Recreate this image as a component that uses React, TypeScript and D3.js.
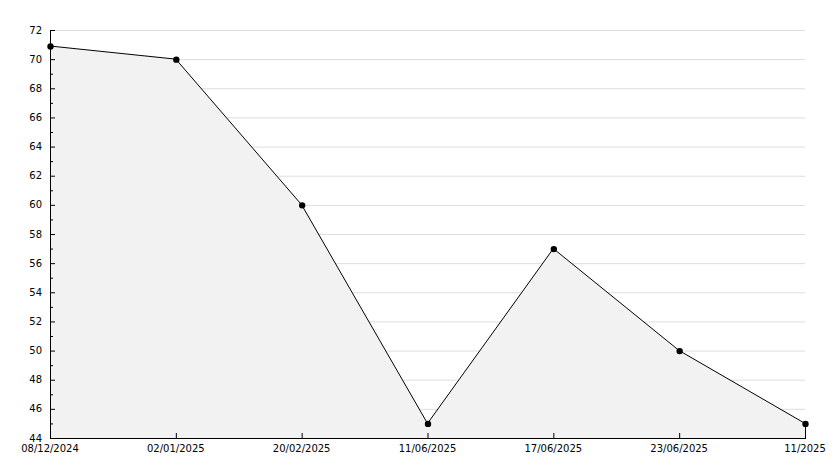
import React from "react";
import * as d3 from "d3";

const categories = ["08/12/2024", "02/01/2025", "20/02/2025", "11/06/2025", "17/06/2025", "23/06/2025", "11/2025"];
const values = [70.9, 70, 60, 45, 57, 50, 45];
const yMajorTicks = [44, 46, 48, 50, 52, 54, 56, 58, 60, 62, 64, 66, 68, 70, 72];
const yMinorTicks = [45, 47, 49, 51, 53, 55, 57, 59, 61, 63, 65, 67, 69, 71];

const W = 834, H = 468;
const left = 50, right = 805, top = 30, bottom = 438;

export default function App() {
  const x = d3.scalePoint<string>().domain(categories).range([left, right]);
  const y = d3.scaleLinear().domain([44, 72]).range([bottom, top]);
  const pts: [number, number][] = values.map((v, i) => [x(categories[i])!, y(v)]);
  const area = d3.area<[number, number]>().x(d => d[0]).y0(y(44)).y1(d => d[1])(pts)!;
  const line = d3.line<[number, number]>().x(d => d[0]).y(d => d[1])(pts)!;
  const font = "'DejaVu Sans', sans-serif";
  const last = pts[pts.length - 1];
  return (
    <div style={{ position: "absolute", left: 0, top: 0 }}>
      <svg width={W} height={H} style={{ display: "block", background: "#fff" }}>
        {yMajorTicks.map(t => (
          <line key={"g" + t} x1={left} x2={right} y1={y(t) + 0.5} y2={y(t) + 0.5} stroke="#dddddd" strokeWidth={1} />
        ))}
        <path d={area} fill="#f2f2f2" stroke="none" />
        <path d={line} fill="none" stroke="#000" strokeWidth={1} />
        <line x1={last[0] + 0.5} x2={last[0] + 0.5} y1={last[1]} y2={bottom} stroke="#000" />
        <line x1={left + 0.5} x2={left + 0.5} y1={top} y2={bottom + 0.5} stroke="#000" />
        <line x1={left} x2={right + 1} y1={bottom + 0.5} y2={bottom + 0.5} stroke="#000" />
        {yMajorTicks.map(t => (
          <g key={"t" + t}>
            <line x1={left} x2={left + 5} y1={y(t) + 0.5} y2={y(t) + 0.5} stroke="#000" />
            <text x={42} y={y(t)} dy="0.35em" textAnchor="end" fontFamily={font} fontSize={10} fill="#000">{t}</text>
          </g>
        ))}
        {yMinorTicks.map(t => (
          <line key={"m" + t} x1={left} x2={left + 3} y1={y(t) + 0.5} y2={y(t) + 0.5} stroke="#000" />
        ))}
        {categories.map(c => (
          <g key={c}>
            <line x1={x(c)! + 0.5} x2={x(c)! + 0.5} y1={bottom - 5} y2={bottom} stroke="#000" />
            <text x={x(c)!} y={452} textAnchor="middle" fontFamily={font} fontSize={10} fill="#000">{c}</text>
          </g>
        ))}
        {pts.map((p, i) => (
          <path key={"p" + i} d={d3.symbol().type(d3.symbolCircle).size(32)()!} transform={`translate(${p[0] + 0.5},${p[1] + 0.5})`} fill="#000" />
        ))}
      </svg>
    </div>
  );
}
